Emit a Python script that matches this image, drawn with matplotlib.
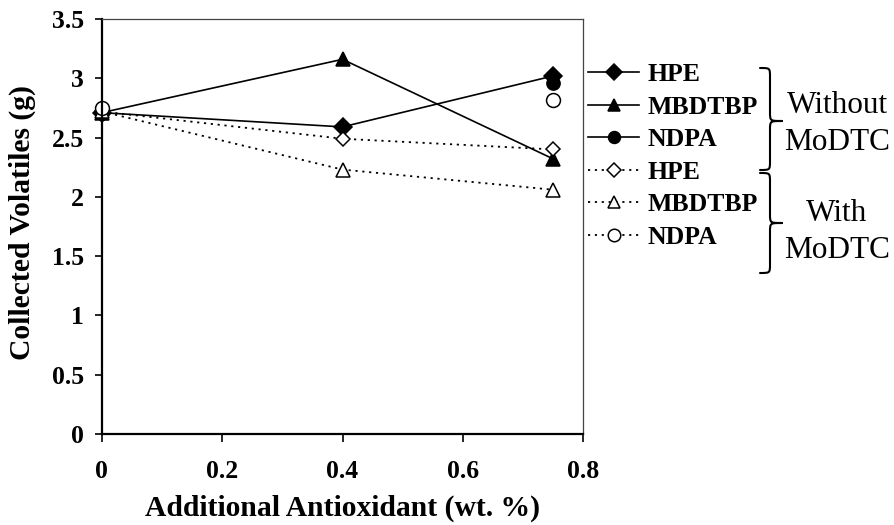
import numpy as np
import matplotlib
matplotlib.use("Agg")
import matplotlib.pyplot as plt
from matplotlib.path import Path
from matplotlib.patches import PathPatch

# ---- data ----
x_vals = [0.0, 0.4, 0.75]
hpe_without = [2.71, 2.59, 3.02]
mbdtbp_without = [2.71, 3.16, 2.32]
ndpa_without = [2.71, np.nan, 2.96]
hpe_with = [2.72, 2.49, 2.40]
mbdtbp_with = [2.72, 2.23, 2.06]
ndpa_with = [2.75, np.nan, 2.82]
series_labels = ["HPE", "MBDTBP", "NDPA", "HPE", "MBDTBP", "NDPA"]
group_labels = [("Without", "MoDTC"), ("With", "MoDTC")]
x_ticks = [0, 0.2, 0.4, 0.6, 0.8]
x_ticklabels = ["0", "0.2", "0.4", "0.6", "0.8"]
y_ticks = [0, 0.5, 1, 1.5, 2, 2.5, 3, 3.5]
y_ticklabels = ["0", "0.5", "1", "1.5", "2", "2.5", "3", "3.5"]

plt.rcParams['font.family'] = ['Liberation Serif', 'DejaVu Serif']

W, H = 894, 525
fig = plt.figure(figsize=(W / 100, H / 100), dpi=100)
ax = fig.add_axes([101.7 / W, 1 - 434 / H, (583.3 - 101.7) / W, (434 - 19) / H])

dot = (0, (1.2, 2.6))
solid_kw = dict(color='black', lw=1.2, linestyle='-')
dot_kw = dict(color='black', lw=1.3, linestyle=dot)

series = [
    (hpe_without, 'D', 'black', solid_kw, 9),
    (mbdtbp_without, '^', 'black', solid_kw, 10),
    (ndpa_without, 'o', 'black', solid_kw, 9.5),
    (hpe_with, 'D', 'white', dot_kw, 7.5),
    (mbdtbp_with, '^', 'white', dot_kw, 10),
    (ndpa_with, 'o', 'white', dot_kw, 10),
]
handles = []
for (vals, m, fc, kw, ms), lab in zip(series, series_labels):
    h, = ax.plot(x_vals, vals, marker=m, markerfacecolor=fc, markeredgecolor='black',
                 markersize=ms, markeredgewidth=1.1, label=lab, clip_on=False, **kw)
    handles.append(h)

ax.set_xlim(0, 0.8)
ax.set_ylim(0, 3.5)
ax.set_xticks(x_ticks)
ax.set_xticklabels(x_ticklabels)
ax.set_yticks(y_ticks)
ax.set_yticklabels(y_ticklabels)

for t in ax.get_xticklabels() + ax.get_yticklabels():
    t.set_fontweight('bold')
    t.set_fontsize(18.5)

ax.tick_params(axis='y', direction='out', length=5, width=1.2, pad=8)
ax.tick_params(axis='x', direction='out', length=5.5, width=1.2, pad=13)

for s in ['left', 'bottom']:
    ax.spines[s].set_linewidth(1.6)
    ax.spines[s].set_color('black')
for s in ['top', 'right']:
    ax.spines[s].set_linewidth(0.9)
    ax.spines[s].set_color('#444444')

ax.set_xlabel("Additional Antioxidant (wt. %)", fontsize=21.3, fontweight='bold')
ax.set_ylabel("Collected Volatiles (g)", fontsize=21.3, fontweight='bold')
ax.xaxis.set_label_coords(0.5, -0.178)
ax.xaxis.label.set_va('center')
ax.yaxis.set_label_coords(-0.165, 0.51)
ax.yaxis.label.set_va('center')

leg = ax.legend(handles=handles, loc='upper left',
                bbox_to_anchor=(588 / W, 1 - 63 / H), bbox_transform=fig.transFigure,
                frameon=False, borderpad=0, borderaxespad=0, numpoints=1,
                handlelength=2.0, handletextpad=0.3, labelspacing=0.37,
                prop=dict(family='Liberation Serif', weight='bold', size=18.5))
for h in leg.legend_handles:
    h.set_markersize(h.get_markersize() * 0.9)


def brace(y0, ym, y1, xl=760, xv=770, xt=782, r=9):
    pts = [(xl, y0), (xv, y0), (xv, y0), (xv, y0 + r),
           (xv, ym - r), (xv, ym), (xv, ym), (xt, ym),
           (xv, ym), (xv, ym), (xv, ym + r),
           (xv, y1 - r), (xv, y1), (xv, y1), (xl, y1)]
    codes = [Path.MOVETO, Path.CURVE4, Path.CURVE4, Path.CURVE4,
             Path.LINETO, Path.CURVE4, Path.CURVE4, Path.CURVE4,
             Path.CURVE4, Path.CURVE4, Path.CURVE4,
             Path.LINETO, Path.CURVE4, Path.CURVE4, Path.CURVE4]
    pts = [(px / W, 1 - py / H) for px, py in pts]
    patch = PathPatch(Path(pts, codes), transform=fig.transFigure, fill=False,
                      lw=1.5, edgecolor='black', capstyle='round', joinstyle='round')
    fig.add_artist(patch)


brace(68, 121, 170)
brace(173, 223, 273)

baselines = [(113, 150), (221, 258)]
for (l1, l2), (b1, b2) in zip(group_labels, baselines):
    fig.text(837 / W, 1 - b1 / H, l1, ha='center', va='baseline', fontsize=22.5)
    fig.text(837 / W, 1 - b2 / H, l2, ha='center', va='baseline', fontsize=22.5)

fig.savefig("out.png", dpi=100)
